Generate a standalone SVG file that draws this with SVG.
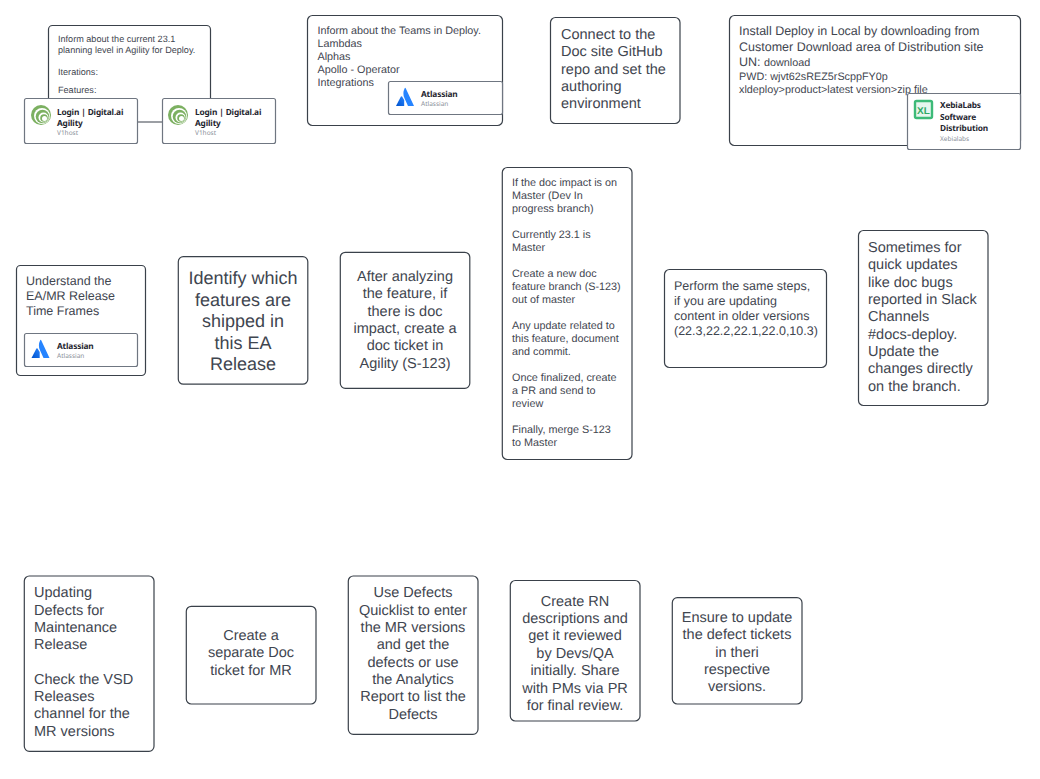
<svg xmlns="http://www.w3.org/2000/svg" width="1040" height="779" viewBox="0 0 1040 779">
<style>
.n{fill:#fff;stroke:#3a414a;stroke-width:1.2}
.c{fill:#fff;stroke:#6f7681;stroke-width:1.2}
text{font-family:"Liberation Sans",Arial,sans-serif;fill:#3f4650;text-rendering:geometricPrecision}
.m{text-anchor:middle}
text.t{font-family:"Noto Sans",sans-serif;font-weight:700;font-size:8.3px;letter-spacing:-.15px;fill:#1f2630}
text.s{font-family:"Noto Sans",sans-serif;font-size:6.5px;fill:#8a9099}
</style>
<defs>
<linearGradient id="ag" x1="0" y1="1" x2="1" y2="0"><stop offset="0" stop-color="#0052cc"/><stop offset="1" stop-color="#2684ff"/></linearGradient>
<g id="atl"><path d="M0 18 L4.800 8.800 Q5.500 7.800 6.200 8.800 L8.200 12 L8.200 18Z" fill="url(#ag)"/><path d="M8.800 0 Q6 5.500 8.600 10.500 L12 18 H18 L9.700 0.300 Q9.200 -0.500 8.800 0Z" fill="#2684ff"/></g>
<g id="dai"><circle cx="10" cy="10" r="10" fill="#7cb061"/><circle cx="11" cy="11" r="8" fill="#fff"/><circle cx="11.500" cy="11.500" r="6.800" fill="#7cb061"/><circle cx="12.500" cy="12.500" r="5" fill="#fff"/><circle cx="13" cy="13" r="3.800" fill="#7cb061"/><circle cx="13.500" cy="13.500" r="2.500" fill="#fff"/></g>
</defs>
<g id="connectors"></g>
<g id="node-planning"><rect class="n" x="48.500" y="25.500" width="162" height="96.500" rx="4"/>
<text font-size="9.100"><tspan x="58" y="42">Inform about the current 23.1</tspan><tspan x="58" y="53">planning level in Agility for Deploy.</tspan><tspan x="58" y="75">Iterations:</tspan><tspan x="58" y="93">Features:</tspan></text></g>
<g id="card-login-1"><rect class="c" x="24.500" y="98.500" width="113" height="45" rx="2"/><use href="#dai" x="31" y="105"/><text class="t"><tspan x="57" y="114.500">Login | Digital.ai</tspan><tspan x="57" y="126">Agility</tspan></text><text class="s" x="57" y="135">V1host</text></g>
<g id="card-login-2"><rect class="c" x="162.500" y="98.500" width="113" height="45" rx="2"/><use href="#dai" x="168" y="105"/><text class="t"><tspan x="195" y="114.500">Login | Digital.ai</tspan><tspan x="195" y="126">Agility</tspan></text><text class="s" x="195" y="135">V1host</text></g>
<g id="node-teams"><rect class="n" x="307.500" y="15.500" width="195" height="110" rx="5"/>
<text font-size="10.800"><tspan x="317.500" y="34">Inform about the Teams in Deploy.</tspan><tspan x="317.500" y="47">Lambdas</tspan><tspan x="317.500" y="60">Alphas</tspan><tspan x="317.500" y="73">Apollo - Operator</tspan><tspan x="317.500" y="86">Integrations</tspan></text></g>
<g id="card-atl-1"><rect class="c" x="388.500" y="81.500" width="114" height="33" rx="2"/><use href="#atl" x="396" y="88"/><text class="t" x="421" y="97">Atlassian</text><text class="s" x="421" y="106">Atlassian</text></g>
<g id="node-connect"><rect class="n" x="550.500" y="17.500" width="129.500" height="106" rx="5"/>
<text font-size="14.500"><tspan x="561" y="39">Connect to the</tspan><tspan x="561" y="56.300">Doc site GitHub</tspan><tspan x="561" y="73.700">repo and set the</tspan><tspan x="561" y="91">authoring</tspan><tspan x="561" y="108.300">environment</tspan></text></g>
<g id="node-install"><rect class="n" x="729.500" y="15.500" width="291" height="130" rx="5"/>
<text font-size="12.500"><tspan x="739" y="35">Install Deploy in Local by downloading from</tspan><tspan x="739" y="50.500">Customer Download area of Distribution site</tspan></text>
<text font-size="10.800"><tspan x="739" y="66"><tspan font-size="12.500">UN: </tspan>download</tspan><tspan x="739" y="80">PWD: wjvt62sREZ5rScppFY0p</tspan><tspan x="739" y="93">xldeploy&gt;product&gt;latest version&gt;zip file</tspan></text></g>
<g id="card-xebia"><rect class="c" x="907.500" y="93.500" width="113" height="56" rx="2"/><rect x="915" y="101" width="17" height="17" rx="1.500" fill="#e6f6ee" stroke="#3dba78" stroke-width="2.400"/><text x="923.500" y="113.500" class="m" font-size="10" font-weight="700" style="fill:#2fa866">XL</text><text class="t"><tspan x="940" y="108">XebiaLabs</tspan><tspan x="940" y="119.500">Software</tspan><tspan x="940" y="131">Distribution</tspan></text><text class="s" x="940" y="141">Xebialabs</text></g>
<g id="node-understand"><rect class="n" x="16.500" y="265.500" width="129" height="110" rx="4"/>
<text font-size="12.500"><tspan x="26" y="285">Understand the</tspan><tspan x="26" y="300">EA/MR Release</tspan><tspan x="26" y="315">Time Frames</tspan></text></g>
<g id="card-atl-2"><rect class="c" x="24.500" y="333.500" width="113" height="33" rx="2"/><use href="#atl" x="31.500" y="340"/><text class="t" x="57" y="349">Atlassian</text><text class="s" x="57" y="358">Atlassian</text></g>
<g id="node-identify"><rect class="n" x="178.300" y="256.700" width="129.500" height="127.500" rx="5"/>
<text class="m" font-size="18"><tspan x="243" y="284.300">Identify which</tspan><tspan x="243" y="305.700">features are</tspan><tspan x="243" y="327">shipped in</tspan><tspan x="243" y="349">this EA</tspan><tspan x="243" y="370">Release</tspan></text></g>
<g id="node-analyze"><rect class="n" x="340.300" y="252.300" width="129.500" height="136" rx="5"/>
<text class="m" font-size="14.500"><tspan x="405" y="281">After analyzing</tspan><tspan x="405" y="298.300">the feature, if</tspan><tspan x="405" y="315.700">there is doc</tspan><tspan x="405" y="333">impact, create a</tspan><tspan x="405" y="350.300">doc ticket in</tspan><tspan x="405" y="367.500">Agility (S-123)</tspan></text></g>
<g id="node-master"><rect class="n" x="502.300" y="167.500" width="129.700" height="292" rx="5"/>
<text font-size="10.800"><tspan x="512" y="186">If the doc impact is on</tspan><tspan x="512" y="199">Master (Dev In</tspan><tspan x="512" y="212">progress branch)</tspan><tspan x="512" y="238">Currently 23.1 is</tspan><tspan x="512" y="251">Master</tspan><tspan x="512" y="277">Create a new doc</tspan><tspan x="512" y="290">feature branch (S-123)</tspan><tspan x="512" y="303">out of master</tspan><tspan x="512" y="329">Any update related to</tspan><tspan x="512" y="342">this feature, document</tspan><tspan x="512" y="355">and commit.</tspan><tspan x="512" y="381">Once finalized, create</tspan><tspan x="512" y="394">a PR and send to</tspan><tspan x="512" y="407">review</tspan><tspan x="512" y="433">Finally, merge S-123</tspan><tspan x="512" y="446">to Master</tspan></text></g>
<g id="node-same"><rect class="n" x="664.500" y="269.500" width="162" height="98" rx="5"/>
<text font-size="12.500"><tspan x="674" y="290">Perform the same steps,</tspan><tspan x="674" y="305">if you are updating</tspan><tspan x="674" y="320">content in older versions</tspan><tspan x="674" y="335">(22.3,22.2,22.1,22.0,10.3)</tspan></text></g>
<g id="node-quick"><rect class="n" x="858.500" y="230.500" width="129.500" height="175" rx="5"/>
<text font-size="14.500"><tspan x="868" y="252">Sometimes for</tspan><tspan x="868" y="269.300">quick updates</tspan><tspan x="868" y="286.700">like doc bugs</tspan><tspan x="868" y="304">reported in Slack</tspan><tspan x="868" y="321.300">Channels</tspan><tspan x="868" y="338.700">#docs-deploy.</tspan><tspan x="868" y="356">Update the</tspan><tspan x="868" y="373.300">changes directly</tspan><tspan x="868" y="390.700">on the branch.</tspan></text></g>
<g id="node-defects"><rect class="n" x="24.300" y="576" width="129.700" height="175.300" rx="5"/>
<text font-size="14.500"><tspan x="34" y="597.300">Updating</tspan><tspan x="34" y="614.700">Defects for</tspan><tspan x="34" y="632">Maintenance</tspan><tspan x="34" y="649.300">Release</tspan><tspan x="34" y="683.700">Check the VSD</tspan><tspan x="34" y="701">Releases</tspan><tspan x="34" y="718.300">channel for the</tspan><tspan x="34" y="735.700">MR versions</tspan></text></g>
<g id="node-separate"><rect class="n" x="186.300" y="606.300" width="129.700" height="97.700" rx="5"/>
<text class="m" font-size="14.500"><tspan x="251" y="640">Create a</tspan><tspan x="251" y="657.300">separate Doc</tspan><tspan x="251" y="674.700">ticket for MR</tspan></text></g>
<g id="node-quicklist"><rect class="n" x="348.300" y="576" width="129.700" height="158.300" rx="5"/>
<text class="m" font-size="14.500"><tspan x="413" y="597.300">Use Defects</tspan><tspan x="413" y="614.700">Quicklist to enter</tspan><tspan x="413" y="632">the MR versions</tspan><tspan x="413" y="649.300">and get the</tspan><tspan x="413" y="666.700">defects or use</tspan><tspan x="413" y="684">the Analytics</tspan><tspan x="413" y="701.300">Report to list the</tspan><tspan x="413" y="718.700">Defects</tspan></text></g>
<g id="node-rn"><rect class="n" x="510.300" y="580.500" width="129.700" height="140.500" rx="5"/>
<text class="m" font-size="14.500"><tspan x="575" y="605.700">Create RN</tspan><tspan x="575" y="623">descriptions and</tspan><tspan x="575" y="640.300">get it reviewed</tspan><tspan x="575" y="658">by Devs/QA</tspan><tspan x="575" y="675.300">initially. Share</tspan><tspan x="575" y="692.700">with PMs via PR</tspan><tspan x="575" y="710">for final review.</tspan></text></g>
<g id="node-ensure"><rect class="n" x="672.300" y="597.700" width="129.700" height="106.300" rx="5"/>
<text class="m" font-size="14.500"><tspan x="737" y="622">Ensure to update</tspan><tspan x="737" y="639.300">the defect tickets</tspan><tspan x="737" y="656.700">in theri</tspan><tspan x="737" y="674">respective</tspan><tspan x="737" y="691.300">versions.</tspan></text></g>
</svg>
